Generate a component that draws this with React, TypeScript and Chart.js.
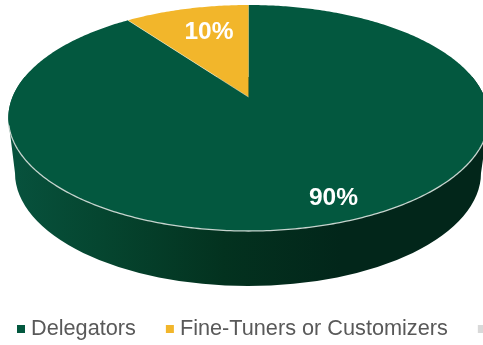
import React, { useEffect, useRef } from "react";
import { Chart, registerables } from "chart.js";

Chart.register(...registerables);

const categories = ["Delegators", "Fine-Tuners or Customizers", ""];
const shares = [90, 10, 0];
const sliceColors = ["#03583F", "#F2B62B", "#D9D9D9"];
const valueLabels = ["90%", "10%", ""];

// Centre of each printed percentage, in canvas pixels.
const labelCentres = [
  { x: 333.5, y: 197 },
  { x: 209, y: 31 },
  { x: 0, y: 0 },
];

const FONT = '"Liberation Sans", Arial, sans-serif';

// Tilted-disc projection: maps a point of the unit circle to the canvas so the
// hub sits behind the centre of the visible ellipse.
const CX = 248.5;
const SCALE_X = 236;
const TILT = -0.1858;
const SCALE_Y = 91.07;
const HUB_Y = 97;

const project = (u: number, v: number) => {
  const w = 1 + TILT * v;
  return { x: CX + (SCALE_X * u) / w, y: (SCALE_Y * v + HUB_Y) / w };
};

const traceRim = (ctx: CanvasRenderingContext2D, from: number, to: number, move: boolean) => {
  const steps = Math.max(8, Math.ceil(Math.abs(to - from) * 80));
  for (let i = 0; i <= steps; i++) {
    const a = from + ((to - from) * i) / steps;
    const p = project(Math.cos(a), Math.sin(a));
    if (i === 0 && move) ctx.moveTo(p.x, p.y);
    else ctx.lineTo(p.x, p.y);
  }
};

const tiltedPie = {
  id: "tiltedPie",
  beforeDatasetsDraw(chart: any) {
    const ctx: CanvasRenderingContext2D = chart.ctx;
    const arcs = chart.getDatasetMeta(0).data;
    ctx.save();

    // Side wall: front half of the rim joined to the lower, slightly narrower rim.
    const wall = ctx.createLinearGradient(10, 0, 484, 0);
    wall.addColorStop(0, "#07523D");
    wall.addColorStop(0.2, "#05452F");
    wall.addColorStop(0.45, "#03321F");
    wall.addColorStop(0.7, "#02261A");
    wall.addColorStop(1, "#02261A");
    ctx.beginPath();
    traceRim(ctx, Math.PI + 0.19, Math.PI - 0.2, true);
    ctx.ellipse(248, 173, 233, 113, 0, Math.PI, 0, true);
    traceRim(ctx, 0.2, -0.19, false);
    ctx.closePath();
    ctx.fillStyle = wall;
    ctx.fill();

    // Top face, one wedge per slice.
    arcs.forEach((arc: any, i: number) => {
      if (arc.endAngle - arc.startAngle <= 0) return;
      const hub = project(0, 0);
      ctx.beginPath();
      ctx.moveTo(hub.x, hub.y);
      traceRim(ctx, arc.startAngle, arc.endAngle, false);
      ctx.closePath();
      ctx.fillStyle = sliceColors[i];
      ctx.fill();
    });

    // Pale seam along the slanted wedge edge.
    const seamArc = arcs[1];
    const seamEnd = project(Math.cos(seamArc.startAngle), Math.sin(seamArc.startAngle));
    const hub = project(0, 0);
    ctx.beginPath();
    ctx.moveTo(hub.x, hub.y);
    ctx.lineTo(seamEnd.x, seamEnd.y);
    ctx.strokeStyle = "rgba(235,240,225,0.65)";
    ctx.lineWidth = 0.8;
    ctx.stroke();

    // Highlight on the front edge of the disc.
    ctx.beginPath();
    traceRim(ctx, Math.PI - 0.25, 0.25, true);
    ctx.strokeStyle = "#C6D4CE";
    ctx.lineWidth = 1.3;
    ctx.stroke();

    // Percentages.
    ctx.fillStyle = "#FFFFFF";
    ctx.font = `bold 24.5px ${FONT}`;
    ctx.textAlign = "center";
    ctx.textBaseline = "middle";
    valueLabels.forEach((text, i) => {
      if (text) ctx.fillText(text, labelCentres[i].x, labelCentres[i].y + 1);
    });

    // Legend row; the last entry runs off the right edge.
    ctx.font = `21.7px ${FONT}`;
    ctx.textAlign = "left";
    let x = 17;
    chart.data.labels.forEach((label: string, i: number) => {
      ctx.fillStyle = sliceColors[i];
      ctx.fillRect(x, 325, 8, 8);
      ctx.fillStyle = "#595959";
      ctx.fillText(label, x + 14, 329);
      x += 14 + ctx.measureText(label).width + 30;
    });

    ctx.restore();
    return false;
  },
};

export default function App() {
  const canvasRef = useRef<HTMLCanvasElement>(null);

  useEffect(() => {
    const chart = new Chart(canvasRef.current as HTMLCanvasElement, {
      type: "pie",
      data: {
        labels: categories,
        datasets: [{ data: shares, backgroundColor: sliceColors, borderWidth: 0 }],
      },
      options: {
        responsive: false,
        animation: false,
        plugins: { legend: { display: false }, tooltip: { enabled: false } },
      },
      plugins: [tiltedPie],
    });
    return () => chart.destroy();
  }, []);

  return (
    <div style={{ position: "fixed", left: 0, top: 0, width: 483, height: 345, background: "#fff" }}>
      <canvas ref={canvasRef} width={483} height={345} style={{ display: "block" }} />
    </div>
  );
}
